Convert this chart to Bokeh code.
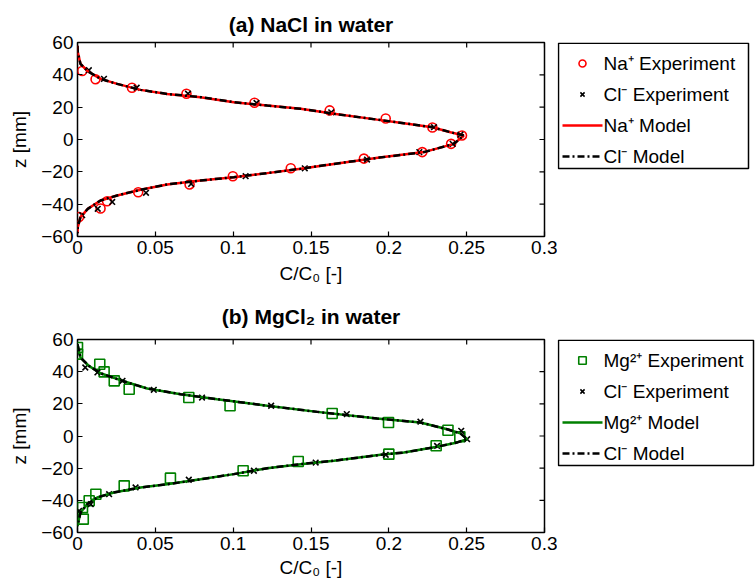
import numpy as np
from bokeh.plotting import figure
from bokeh.layouts import column, row
from bokeh.models import Range1d, FixedTicker
from bokeh.core.properties import value
from bokeh.embed import file_html
from bokeh.resources import INLINE

# ---- (a) NaCl in water -------------------------------------------------
na_exp_c = [0.003, 0.0116, 0.035, 0.070, 0.1137, 0.162, 0.198, 0.228, 0.247,
            0.240, 0.2215, 0.184, 0.137, 0.0998, 0.072, 0.039, 0.019, 0.0148, 0.001]
na_exp_z = [42.4, 37.3, 32.0, 28.3, 22.7, 18.0, 13.0, 7.4, 2.5,
            -2.7, -7.8, -11.8, -17.8, -22.7, -27.8, -32.6, -38.2, -42.7, -47.9]

cl_a_exp_c = [0.0073, 0.017, 0.038, 0.071, 0.115, 0.163, 0.229, 0.246, 0.241,
              0.2196, 0.186, 0.146, 0.108, 0.073, 0.044, 0.0223, 0.013, 0.003]
cl_a_exp_z = [42.9, 37.5, 32.0, 28.3, 22.6, 16.8, 7.6, 3.0, -2.7,
              -7.8, -12.4, -17.8, -22.7, -27.5, -33.0, -38.6, -42.9, -46.8]

na_model_c = [0.0, 0.0002, 0.0019, 0.0066, 0.0148, 0.0255, 0.0405, 0.0576, 0.079,
              0.1004, 0.1219, 0.1433, 0.1647, 0.1925, 0.2096, 0.2279, 0.2396, 0.2482,
              0.2418, 0.2225, 0.194, 0.1647, 0.1433, 0.1219, 0.1004, 0.079, 0.0576,
              0.0405, 0.0255, 0.0148, 0.0066, 0.0019, 0.0002, 0.0]
na_model_z = [58.0, 54.0, 46.8, 42.2, 37.5, 34.4, 30.7, 28.2, 26.2,
              23.1, 21.0, 19.0, 15.9, 12.3, 10.1, 7.6, 4.5, 2.5,
              -2.7, -7.8, -11.2, -15.1, -18.1, -20.8, -23.3, -25.4, -27.8,
              -31.1, -34.6, -37.7, -42.9, -48.0, -54.2, -58.0]
cl_a_model_c = list(na_model_c)
cl_a_model_z = list(na_model_z)

# ---- (b) MgCl2 in water ------------------------------------------------
mg_exp_c = [0.0, 0.0, 0.0143, 0.0171, 0.0236, 0.0332, 0.0715, 0.098, 0.1636, 0.1998,
            0.238, 0.2456, 0.2304, 0.200, 0.1418, 0.1064, 0.0597, 0.030, 0.0118,
            0.0075, 0.0032, 0.0037]
mg_exp_z = [55.0, 50.9, 44.6, 39.9, 34.3, 29.1, 23.9, 18.8, 14.0, 8.4,
            3.6, -0.5, -6.1, -11.3, -15.9, -21.6, -26.2, -31.0, -36.2,
            -40.3, -44.5, -51.7]

cl_b_exp_c = [0.0, 0.005, 0.0128, 0.0289, 0.049, 0.080, 0.1244, 0.173, 0.2203, 0.2465,
              0.2503, 0.231, 0.198, 0.153, 0.1133, 0.0715, 0.0373, 0.0203, 0.0085, 0.001]
cl_b_exp_z = [52.0, 42.6, 39.5, 34.3, 28.7, 23.9, 18.8, 13.6, 8.9, 3.2,
              -2.0, -6.2, -11.7, -16.5, -21.6, -27.2, -32.0, -36.2, -42.4, -46.6]

mg_model_c = [0.0, 0.0019, 0.0073, 0.0148, 0.0276, 0.0448, 0.0662, 0.0897, 0.1219,
              0.154, 0.1925, 0.2203, 0.2375, 0.246, 0.2503, 0.2439, 0.231, 0.2096,
              0.1947, 0.1647, 0.1433, 0.1219, 0.1004, 0.079, 0.0576, 0.0405, 0.0233,
              0.0127, 0.0062, 0.0019, 0.0]
mg_model_z = [57.0, 48.8, 43.6, 39.0, 34.7, 29.5, 26.0, 22.9, 18.8,
              15.0, 10.9, 8.4, 4.2, 1.6, -2.0, -4.0, -6.7, -10.3,
              -11.7, -15.4, -17.5, -20.0, -23.7, -26.9, -30.0, -32.0, -35.1,
              -38.2, -42.4, -47.6, -56.0]
cl_b_model_c = list(mg_model_c)
cl_b_model_z = list(mg_model_z)

x_ticks = [0, 0.05, 0.1, 0.15, 0.2, 0.25, 0.3]
x_tick_labels = ["0", "0.05", "0.1", "0.15", "0.2", "0.25", "0.3"]
y_ticks = [-60, -40, -20, 0, 20, 40, 60]

FONT = "Liberation Sans"
RED = "#ff0000"
GREEN = "#008000"
DASHDOT = "7 3 2 3"
LEGEND_W = 198


def style_axis(ax):
    ax.axis_line_color = None
    ax.major_tick_in = 5
    ax.major_tick_out = 0
    ax.minor_tick_line_color = None
    ax.major_tick_line_color = "black"
    ax.major_tick_line_width = 1.2
    ax.major_label_text_font = FONT
    ax.major_label_text_font_size = "19px"
    ax.major_label_text_color = "black"
    ax.major_label_standoff = 4
    ax.axis_label_text_font = FONT
    ax.axis_label_text_font_size = "19px"
    ax.axis_label_text_font_style = "normal"
    ax.axis_label_text_color = "black"


def make_axes_box(title, frame_h, top, bottom, title_standoff, xlabel_standoff,
                  ion_c, ion_z, ion_marker, ion_color, cl_c, cl_z, m_c, m_z, clm_c, clm_z):
    xr = Range1d(0, 0.3)
    yr = Range1d(-60, 60)
    p = figure(frame_width=467, frame_height=frame_h, x_range=xr, y_range=yr,
               output_backend="svg", toolbar_location=None,
               min_border_left=77, min_border_right=13,
               min_border_top=top, min_border_bottom=bottom)
    p.title.text = title
    p.title.align = "center"
    p.title.text_font = FONT
    p.title.text_font_size = "21px"
    p.title.text_font_style = "bold"
    p.title.text_color = "black"
    p.title.standoff = title_standoff
    p.xgrid.visible = False
    p.ygrid.visible = False
    p.outline_line_color = "black"
    p.outline_line_width = 1.5
    p.outline_line_alpha = 1.0
    p.border_fill_color = "white"

    p.xaxis.ticker = FixedTicker(ticks=x_ticks)
    p.yaxis.ticker = FixedTicker(ticks=y_ticks)
    p.xaxis.major_label_overrides = {t: s for t, s in zip(x_ticks, x_tick_labels)}
    p.xaxis.axis_label = "C/C\u2080 [-]"
    p.yaxis.axis_label = "z [mm]"
    style_axis(p.xaxis[0])
    style_axis(p.yaxis[0])
    p.yaxis.axis_label_standoff = 8
    p.xaxis.axis_label_standoff = xlabel_standoff

    # mirrored inward ticks on the top and right edges of the box
    p.ray(x=[xr.end] * len(y_ticks), y=y_ticks, length=5, length_units="screen",
          angle=np.pi, line_color="black", line_width=1.2)
    p.ray(x=x_ticks, y=[yr.end] * len(x_ticks), length=5, length_units="screen",
          angle=-np.pi / 2, line_color="black", line_width=1.2)

    p.scatter(ion_c, ion_z, marker=ion_marker, size=9 if ion_marker == "circle" else 10,
              fill_color=None, line_color=ion_color, line_width=1.6)
    p.scatter(cl_c, cl_z, marker="x", size=8, line_color="black", line_width=1.6)
    p.line(m_c, m_z, line_color=ion_color, line_width=2.5)
    p.line(clm_c, clm_z, line_color="black", line_width=2.5, line_dash=DASHDOT)
    return p


def make_legend(frame_h, top, bottom, box_right, ion_marker, ion_color, labels):
    # pixel-like coordinates inside the canvas: x to the right, y downward
    lf = figure(frame_width=LEGEND_W, frame_height=frame_h,
                x_range=Range1d(0, LEGEND_W), y_range=Range1d(top + frame_h, top),
                output_backend="svg", toolbar_location=None,
                x_axis_location=None, y_axis_location=None,
                min_border=0, min_border_left=0, min_border_right=0,
                min_border_top=top, min_border_bottom=bottom)
    lf.xgrid.visible = False
    lf.ygrid.visible = False
    lf.outline_line_color = None
    lf.border_fill_color = "white"
    lf.background_fill_color = "white"

    box_top = top
    box_left = 1
    rows = [box_top + 21, box_top + 52, box_top + 83, box_top + 114]
    lf.quad(left=[box_left], right=[box_right], top=[box_top + 0.75], bottom=[box_top + 126],
            fill_color="white", line_color="black", line_width=1.5)
    mark_x = 25
    lf.scatter([mark_x], [rows[0]], marker=ion_marker,
               size=7 if ion_marker == "circle" else 7.5,
               fill_color=None, line_color=ion_color, line_width=1.6)
    lf.scatter([mark_x], [rows[1]], marker="x", size=6, line_color="black", line_width=1.6)
    lf.segment(x0=[5], x1=[45], y0=[rows[2]], y1=[rows[2]],
               line_color=ion_color, line_width=2.5)
    lf.segment(x0=[5], x1=[45], y0=[rows[3]], y1=[rows[3]],
               line_color="black", line_width=2.5, line_dash=DASHDOT)
    lf.text(x=[46] * 4, y=rows, text=labels, text_baseline="middle",
            text_align="left", text_font=value(FONT), text_font_size="19px",
            text_color="black")
    return lf


pa = make_axes_box("(a) NaCl in water", 194, 42, 54, 13, 6,
                   na_exp_c, na_exp_z, "circle", RED,
                   cl_a_exp_c, cl_a_exp_z, na_model_c, na_model_z,
                   cl_a_model_c, cl_a_model_z)
la = make_legend(194, 42, 54, 191, "circle", RED,
                 ["Na\u207a Experiment", "Cl\u207b Experiment", "Na\u207a Model", "Cl\u207b Model"])

pb = make_axes_box("(b) MgCl\u2082 in water", 193, 47, 58, 24, 4,
                   mg_exp_c, mg_exp_z, "square", GREEN,
                   cl_b_exp_c, cl_b_exp_z, mg_model_c, mg_model_z,
                   cl_b_model_c, cl_b_model_z)
lb = make_legend(193, 47, 58, 196, "square", GREEN,
                 ["Mg\u00b2\u207a Experiment", "Cl\u207b Experiment", "Mg\u00b2\u207a Model", "Cl\u207b Model"])

layout = column(row(pa, la, spacing=0), row(pb, lb, spacing=0), spacing=0)
open("out.html", "w").write(file_html(layout, INLINE))
